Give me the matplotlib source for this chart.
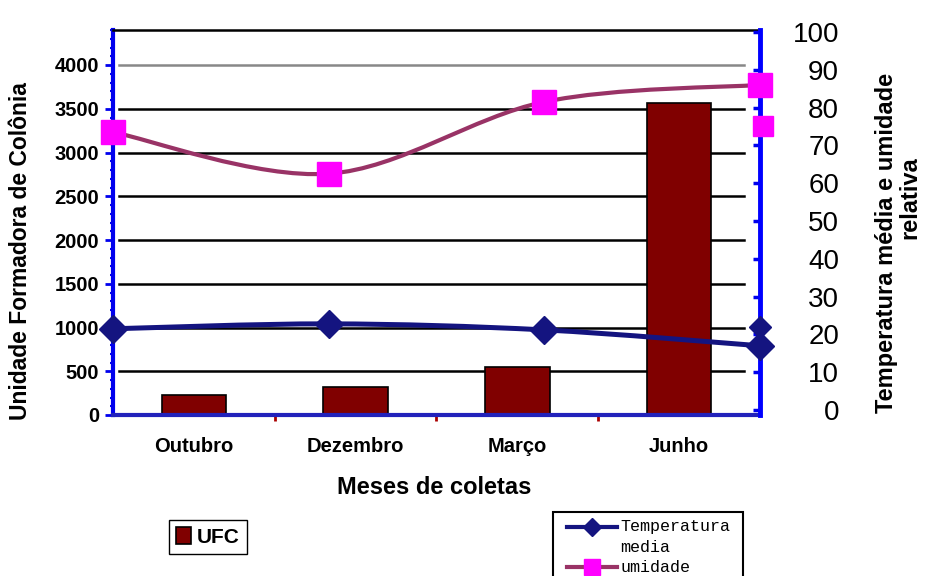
import numpy as np
import matplotlib
matplotlib.use('Agg')
import matplotlib.pyplot as plt
from matplotlib.path import Path
from matplotlib.patches import PathPatch, Rectangle
from matplotlib.lines import Line2D

# Dados das coletas
meses = ['Outubro', 'Dezembro', 'Março', 'Junho']
ufc = [230, 320, 550, 3570]
temperatura = [21.5, 22.8, 21.2, 17.0]
umidade = [73.5, 62.5, 81.5, 86.0]
# marcadores soltos junto ao eixo direito
umidade_eixo = [75]
temperatura_eixo = [22]

W, H = 928, 576
BOLD = ['Liberation Sans', 'DejaVu Sans']


def fpos(x, y):
    # pixel -> coordenadas da figura
    return x / W, 1 - y / H


def smooth_path(xs, ys):
    # curva suavizada (Catmull-Rom em Bezier cubica) passando pelos pontos
    p = np.column_stack([xs, ys]).astype(float)
    ext = np.vstack([p[0], p, p[-1]])
    verts = [p[0]]
    codes = [Path.MOVETO]
    for i in range(1, len(ext) - 2):
        c1 = ext[i] + (ext[i + 1] - ext[i - 1]) / 6
        c2 = ext[i + 1] - (ext[i + 2] - ext[i]) / 6
        verts += [c1, c2, ext[i + 1]]
        codes += [Path.CURVE4] * 3
    return Path(verts, codes)


fig = plt.figure(figsize=(W / 100, H / 100), dpi=100)
rect = [113 / W, 1 - 415 / H, (760 - 113) / W, (415 - 30) / H]

# eixo das barras (UFC)
ax = fig.add_axes(rect)
x = np.arange(len(meses))
barras = ax.bar(x, ufc, width=0.4, color='#800000', edgecolor='black',
                linewidth=1.2, zorder=2)
ax.set_xlim(-0.5, len(meses) - 0.5)
ax.set_ylim(0, 4400)
for v in range(500, 4400, 500):
    ax.axhline(v, xmin=0.01, xmax=0.975, color='#888888' if v == 4000 else 'black',
               lw=1.8, zorder=0)

ax.set_yticks(range(0, 4001, 500))
ax.set_yticks(range(0, 4401, 100), minor=True)
ax.set_yticklabels([str(v) for v in range(0, 4001, 500)],
                   fontsize=14.5, fontweight='bold', family=BOLD)
ax.tick_params(axis='y', which='major', direction='out', length=6, width=2,
               color='#0000ee', pad=4)
ax.tick_params(axis='y', which='minor', direction='out', length=2.5, width=1.5,
               color='#0000ee')
ax.set_xticks(x)
ax.set_xticklabels(meses, fontsize=14.5, fontweight='bold', family=BOLD)
ax.set_xticks(x[:-1] + 0.5, minor=True)
ax.tick_params(axis='x', which='major', length=0, pad=16)
ax.tick_params(axis='x', which='minor', length=4, width=2, color='#aa0000')

ax.spines['left'].set_color('#0000ee')
ax.spines['left'].set_linewidth(3)
ax.spines['bottom'].set_color('#2222bb')
ax.spines['bottom'].set_linewidth(3)
ax.spines['top'].set_color('black')
ax.spines['top'].set_linewidth(1.8)
ax.spines['right'].set_visible(False)

# eixo das linhas (temperatura e umidade)
ax2 = fig.add_axes(rect, facecolor='none')
ax2.set_xlim(0, len(meses) - 1)
ax2.set_ylim(-1.3, 100.5)
ax2.xaxis.set_visible(False)
ax2.yaxis.tick_right()
for s in ['top', 'left', 'bottom']:
    ax2.spines[s].set_visible(False)
ax2.spines['right'].set_color('#0000ff')
ax2.spines['right'].set_linewidth(3.5)
ax2.set_yticks(range(0, 101, 10))
ax2.set_yticklabels([str(v) for v in range(0, 101, 10)], fontsize=20,
                    family=['Liberation Sans Narrow', 'Liberation Sans', 'DejaVu Sans'],
                    ha='right')
ax2.tick_params(axis='y', direction='in', length=5, width=2.5, color='#0000ee', pad=57)

xl = np.arange(len(meses))
ax2.add_patch(PathPatch(smooth_path(xl, umidade), facecolor='none',
                        edgecolor='#993366', lw=3, clip_on=False, zorder=3))
ax2.add_patch(PathPatch(smooth_path(xl, temperatura), facecolor='none',
                        edgecolor='#141480', lw=3.6, clip_on=False, zorder=4))
ax2.plot(xl, umidade, ls='none', marker='s', ms=17, color='#ff00ff',
         clip_on=False, zorder=5)
ax2.plot(xl, temperatura, ls='none', marker='D', ms=14, color='#141480',
         clip_on=False, zorder=5)
ax2.plot([xl[-1] + 0.015] * len(umidade_eixo), umidade_eixo, ls='none', marker='s',
         ms=14, color='#ff00ff', clip_on=False, zorder=5)
ax2.plot([xl[-1]] * len(temperatura_eixo), temperatura_eixo, ls='none', marker='D',
         ms=11, color='#141480', clip_on=False, zorder=5)

# titulos dos eixos
fig.text(*fpos(434, 488), 'Meses de coletas', ha='center', va='center',
         fontsize=17, fontweight='bold', family=BOLD)
fig.text(*fpos(21, 251), 'Unidade Formadora de Colônia', ha='center', va='center',
         rotation=90, fontsize=16.5, fontweight='bold', family=BOLD)
fig.text(*fpos(887, 243), 'Temperatura média e umidade', ha='center', va='center',
         rotation=90, fontsize=17, fontweight='bold', family=BOLD)
fig.text(*fpos(910, 198), 'relativa', ha='center', va='center',
         rotation=90, fontsize=17, fontweight='bold', family=BOLD)

# legenda das barras
fig.legend([barras], ['UFC'], loc='center', bbox_to_anchor=fpos(208, 537),
           fancybox=False, edgecolor='black', framealpha=1, handlelength=0.7,
           handleheight=0.9, handletextpad=0.3, borderpad=0.35,
           prop={'family': BOLD, 'weight': 'bold', 'size': 15})

# legenda das linhas (cortada na borda inferior)
fig.add_artist(Rectangle(fpos(553, 590), 190 / W, 78 / H, transform=fig.transFigure,
                         facecolor='white', edgecolor='black', lw=1.5))
LEG = ['Liberation Mono', 'DejaVu Sans Mono']
fig.add_artist(Line2D([567 / W, 617 / W], [fpos(0, 527)[1]] * 2, color='#141480',
                      lw=3, transform=fig.transFigure))
fig.add_artist(Line2D([592 / W], [fpos(0, 527)[1]], marker='D', ms=9, ls='none',
                      color='#141480', transform=fig.transFigure))
fig.add_artist(Line2D([567 / W, 617 / W], [fpos(0, 567)[1]] * 2, color='#993366',
                      lw=3, transform=fig.transFigure))
fig.add_artist(Line2D([592 / W], [fpos(0, 567)[1]], marker='s', ms=12, ls='none',
                      color='#ff00ff', transform=fig.transFigure))
fig.text(*fpos(620, 527), 'Temperatura', va='center', fontsize=12, family=LEG)
fig.text(*fpos(620, 547), 'media', va='center', fontsize=12, family=LEG)
fig.text(*fpos(620, 567), 'umidade', va='center', fontsize=12, family=LEG)

fig.savefig('out.png', dpi=100)
